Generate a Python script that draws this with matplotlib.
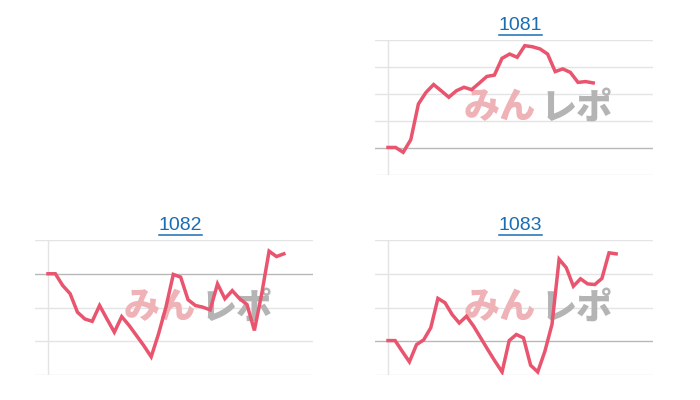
import matplotlib.pyplot as plt
from matplotlib.lines import Line2D

plt.rcParams['font.family'] = ['Liberation Sans', 'DejaVu Sans']

# codes shown above each small chart
codes = ["1081", "1082", "1083"]

# values in grid steps, 0 = the darker reference line
values_1081 = [0.02, 0.02, -0.16, 0.31, 1.63, 2.06, 2.35, 2.12, 1.88, 2.12,
               2.25, 2.16, 2.40, 2.65, 2.70, 3.32, 3.48, 3.36, 3.79, 3.75,
               3.67, 3.48, 2.83, 2.93, 2.80, 2.43, 2.46, 2.41]
values_1082 = [0.0, 0.0, -0.35, -0.59, -1.14, -1.34, -1.41, -0.94, -1.34, -1.73,
               -1.27, -1.53, -1.83, -2.13, -2.46, -1.78, -0.99, -0.02, -0.10, -0.77,
               -0.94, -0.99, -1.07, -0.30, -0.74, -0.50, -0.74, -0.91, -1.68, -0.59,
               0.67, 0.51, 0.59]
values_1083 = [0.02, 0.02, -0.30, -0.61, -0.10, 0.04, 0.40, 1.27, 1.14, 0.79,
               0.54, 0.74, 0.45, 0.10, -0.25, -0.59, -0.91, 0.02, 0.20, 0.10,
               -0.71, -0.91, -0.30, 0.50, 2.43, 2.18, 1.63, 1.85, 1.70, 1.68,
               1.86, 2.62, 2.59]

ticks_1081 = [-1, 0, 1, 2, 3, 4]
ticks_1082 = [-3, -2, -1, 0, 1]
ticks_1083 = [-1, 0, 1, 2, 3]

W, H = 700, 400
fig = plt.figure(figsize=(7, 4), dpi=100)
fig.patch.set_facecolor('white')

line_color = '#e9546e'
grid_light = '#e4e4e4'
grid_dark = '#b8b8b8'
link_color = '#1a6db3'

# left px, top px, px per point
panels = [
    (codes[0], values_1081, ticks_1081, 375, 40, 7.6),
    (codes[1], values_1082, ticks_1082, 35, 240, 7.37),
    (codes[2], values_1083, ticks_1083, 375, 240, 7.13),
]

titles = []
for code, vals, ticks, left, top, step in panels:
    aw, ah = 278, 135
    ax = fig.add_axes([left / W, 1 - (top + ah) / H, aw / W, ah / H])
    ax.set_xlim(-13 / step, (aw - 13) / step)
    ax.set_ylim(ticks[0], ticks[-1])
    ax.axis('off')
    for t in ticks:
        ax.axhline(t, color=grid_dark if t == 0 else grid_light, lw=1, zorder=1)
    ax.axvline(0, color=grid_light, lw=1, zorder=1)

    # watermark
    ax.text(0.58, 0.5, 'みん', transform=ax.transAxes, ha='right', va='center',
            fontsize=26, fontweight='black', color='#eeb2b7',
            family=['Noto Sans CJK JP'], zorder=2)
    ax.text(0.595, 0.5, 'レポ', transform=ax.transAxes, ha='left', va='center',
            fontsize=26, fontweight='black', color='#b4b4b4',
            family=['Noto Sans CJK JP'], zorder=2)

    ax.plot(range(len(vals)), vals, color=line_color, lw=2.5, zorder=3,
            solid_joinstyle='miter')

    cx = (left + 13 + (aw - 13) / 2) / W
    cy = 1 - (top - 15) / H
    titles.append(fig.text(cx, cy, code, ha='center', va='center',
                           fontsize=14, color=link_color))

# underline the link-style titles
fig.canvas.draw()
r = fig.canvas.get_renderer()
for t in titles:
    bb = t.get_window_extent(renderer=r).transformed(fig.transFigure.inverted())
    y = bb.y0 - 1.0 / H
    fig.add_artist(Line2D([bb.x0, bb.x1], [y, y], transform=fig.transFigure,
                          color=link_color, lw=1.1))

fig.savefig('out.png', dpi=100, facecolor='white')
